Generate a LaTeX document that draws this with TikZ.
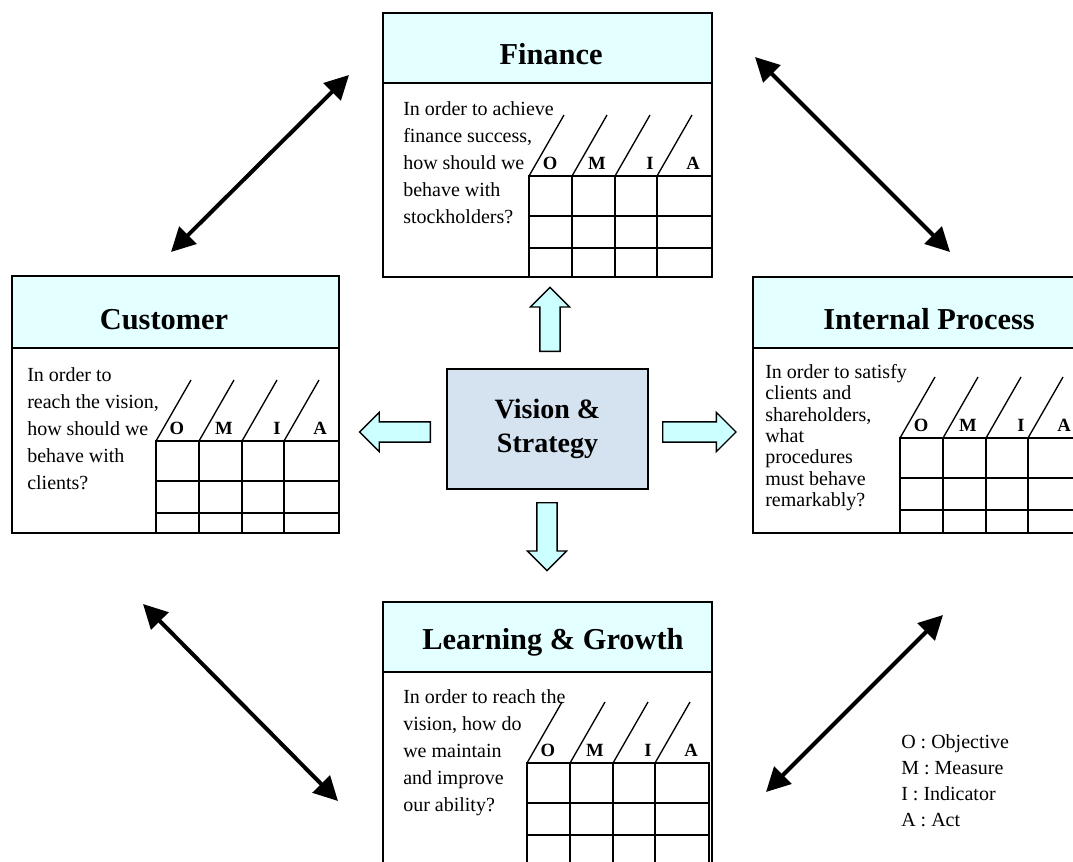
\documentclass[tikz,border=0pt]{standalone}
\usepackage{fontspec}
\setmainfont{Liberation Serif}
\usetikzlibrary{arrows.meta,shapes.arrows}

\definecolor{headcyan}{RGB}{227,255,255}
\definecolor{arrowcyan}{RGB}{204,255,255}
\definecolor{visionblue}{RGB}{213,226,240}

% O/M/I/A grid: top left x, top left y, right edge, bottom edge, name prefix
\newcommand{\omiatable}[5]{%
  \draw[cell] (#1,#2) rectangle (#3,#4);
  \foreach \dx in {0,43,86,128}{
    \draw[cell] (#1+\dx,#2) -- (#1+\dx,#4);
    \draw[slash] (#1+\dx,#2) -- ++(35,-61);
  }
  \foreach \dy in {40,72}
    \draw[cell] (#1,#2+\dy) -- (#3,#2+\dy);
  \foreach \lab/\dx in {O/21,M/68,I/121,A/164}
    \node[omia] (#5\lab) at (#1+\dx,#2-7) {\lab};
}

\begin{document}
\begin{tikzpicture}[x=0.75pt, y=-0.75pt,
    frame/.style={line width=1.7pt},
    cell/.style={line width=1.4pt},
    slash/.style={line width=1pt},
    title/.style={font=\fontsize{22.8}{27}\selectfont\bfseries, anchor=base},
    question/.style={font=\fontsize{15}{20.3}\selectfont, align=left, anchor=north west, inner sep=0pt},
    omia/.style={font=\fontsize{14}{16}\selectfont\bfseries, anchor=base, inner sep=0pt},
    legend/.style={font=\fontsize{15}{19.7}\selectfont, align=left, anchor=north west, inner sep=0pt},
    block arrow/.style={single arrow, draw, line width=1pt, fill=arrowcyan, inner xsep=0pt,
        inner ysep=7.1pt, single arrow head extend=7.1pt, anchor=tail},
    link/.style={arrows={Triangle[length=18pt,width=18pt]-Triangle[length=18pt,width=18pt]}, line width=3pt}]
    \useasboundingbox (0,0) rectangle (1073,861);
    \clip (0,0) rectangle (1073,861);

    % Finance
    \draw[frame, fill=headcyan] (383,13) rectangle (712,83);
    \draw[frame] (383,83) rectangle (712,277);
    \node[title] (finance) at (551,64) {Finance};
    \node[question] (financeQ) at (403,101) {In order to achieve\\finance success,\\how should we\\behave with\\stockholders?};
    \omiatable{529}{176}{712}{277}{fin}

    % Customer
    \draw[frame, fill=headcyan] (12,276) rectangle (339,348);
    \draw[frame] (12,348) rectangle (339,533);
    \node[title] (customer) at (164,329) {Customer};
    \node[question] (customerQ) at (27,367) {In order to\\reach the vision,\\how should we\\behave with\\clients?};
    \omiatable{156}{441}{339}{533}{cus}

    % Internal Process
    \draw[frame, fill=headcyan] (753,277) rectangle (1085,348);
    \draw[frame] (753,348) rectangle (1085,533);
    \node[title] (internal) at (929,329) {Internal Process};
    \node[question, font=\fontsize{15}{16}\selectfont] (internalQ) at (765,364) {In order to satisfy\\clients and\\shareholders,\\what\\procedures\\must behave\\remarkably?};
    \omiatable{900}{438}{1085}{533}{int}

    % Learning & Growth
    \draw[frame, fill=headcyan] (383,602) rectangle (712,672);
    \draw[frame] (383,672) rectangle (712,880);
    \node[title] (learning) at (553,649) {Learning \& Growth};
    \node[question] (learningQ) at (403,689) {In order to reach the\\vision, how do\\we maintain\\and improve\\our ability?};
    \omiatable{527}{763}{709}{880}{lea}

    % centre box and its four arrows
    \node[draw, line width=1.7pt, fill=visionblue, minimum width=150.75pt, minimum height=90pt,
        align=center, font=\fontsize{21}{26}\selectfont\bfseries] (vision) at (547.5,429) {Vision \&\\Strategy};
    \node[block arrow, rotate=90, minimum height=48pt] (toFinance) at (550,352) {};
    \node[block arrow, rotate=270, minimum height=51pt] (toLearning) at (547,502) {};
    \node[block arrow, minimum height=55pt] (toInternal) at (662,432) {};
    \node[block arrow, rotate=180, minimum height=53pt] (toCustomer) at (431,432) {};

    % two-way links between the perspectives
    \coordinate (finWest) at (349,75);
    \coordinate (cusNorth) at (171,252);
    \coordinate (finEast) at (755,57);
    \coordinate (intNorth) at (950,252);
    \coordinate (cusSouth) at (143,604);
    \coordinate (leaWest) at (338,801);
    \coordinate (intSouth) at (943,615);
    \coordinate (leaEast) at (766,792);
    \draw[link] (cusNorth) -- (finWest);
    \draw[link] (finEast) -- (intNorth);
    \draw[link] (cusSouth) -- (leaWest);
    \draw[link] (intSouth) -- (leaEast);

    \node[legend] (legend) at (901,734) {O : Objective\\M : Measure\\I : Indicator\\A : Act};
\end{tikzpicture}
\end{document}
